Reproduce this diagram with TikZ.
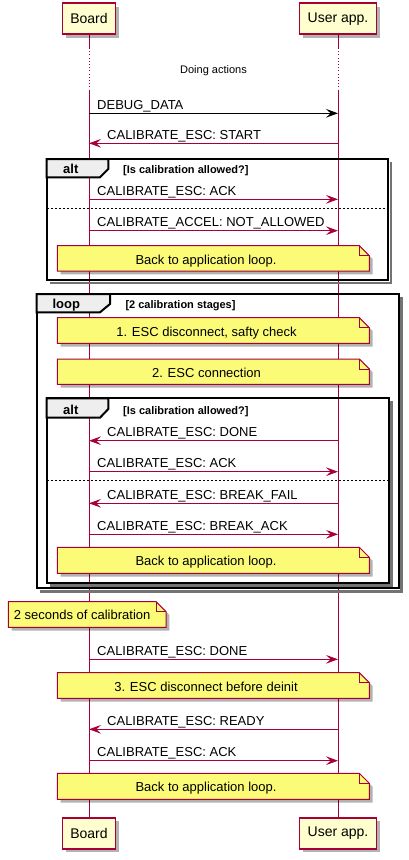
\documentclass[tikz,border=0pt]{standalone}
\usepackage{fontspec}
\setmainfont{Liberation Sans}
\usetikzlibrary{arrows.meta,shadows,backgrounds}

\definecolor{umlred}{RGB}{168,0,54}
\definecolor{partfill}{RGB}{254,254,206}
\definecolor{notefill}{RGB}{251,251,119}
\definecolor{tabfill}{RGB}{238,238,238}

\tikzset{every picture/.style={line width=0.75pt}}
\tikzset{
  umlshadow/.style={drop shadow={shadow xshift=2.5pt,shadow yshift=-2.5pt,fill=black,opacity=0.3}},
  participant/.style={draw=umlred,fill=partfill,line width=1.1pt,umlshadow,minimum height=23.25pt,inner xsep=6pt,font=\fontsize{10.5}{12}\selectfont},
  lifeline/.style={draw=umlred},
  msg/.style={draw=umlred,-{Stealth[length=9pt,width=6.5pt,inset=3.5pt]}},
  msglabel/.style={anchor=base west,inner sep=0pt,font=\fontsize{9.75}{11}\selectfont},
  notebox/.style={draw=umlred,fill=notefill,umlshadow},
  notetext/.style={anchor=base,inner sep=0pt,font=\fontsize{9.75}{11}\selectfont},
  frame/.style={draw=black,line width=1.5pt},
  frameshadow/.style={draw=black!55,line width=2.2pt},
  tab/.style={draw=black,fill=tabfill,line width=1.5pt},
  tablabel/.style={anchor=base,inner sep=0pt,font=\bfseries\fontsize{9.75}{11}\selectfont},
  guard/.style={anchor=base west,inner sep=0pt,font=\bfseries\fontsize{8.25}{10}\selectfont},
  separator/.style={draw=black,dash pattern=on 1.5pt off 1.5pt},
}

\begin{document}
\begin{tikzpicture}[x=0.75pt,y=0.75pt,yscale=-1,xscale=1]
\useasboundingbox (0,0) rectangle (409,860);

% Participants
\node[participant] (board) at (89,18.7) {Board};
\node[participant] (user) at (338,18.7) {User app.};
\node[participant] (boardend) at (89,833.3) {Board};
\node[participant] (userend) at (338,833.3) {User app.};

% Lifelines
\begin{scope}[on background layer]
\draw[lifeline] (board.south) -- (board |- 0,48);
\draw[lifeline,dotted] (board |- 0,48) -- (board |- 0,90);
\draw[lifeline] (board |- 0,90) -- (boardend.north);
\draw[lifeline] (user.south) -- (user |- 0,48);
\draw[lifeline,dotted] (user |- 0,48) -- (user |- 0,90);
\draw[lifeline] (user |- 0,90) -- (userend.north);
\end{scope}

% Delay
\node[font=\fontsize{8.25}{10}\selectfont] (delay) at (213.5,71) {Doing actions};

% Messages
\draw[msg,draw=black] (board |- 0,113.3) -- (user |- 0,113.3);
\node[msglabel] (m1) at (96.7,109) {DEBUG\_DATA};
\draw[msg] (user |- 0,143.3) -- (board |- 0,143.3);
\node[msglabel] (m2) at (106.7,139) {CALIBRATE\_ESC: START};

% Alt frame [id:alt1]
\draw[frameshadow] (391,162) -- (391,283) -- (49.5,283);
\draw[frame] (46.7,159) rectangle (388.3,280);
\draw[tab] (46.7,159) -- (108.3,159) -- (108.3,169) -- (100,177.3) -- (46.7,177.3) -- cycle;
\node[tablabel] (alt1) at (70.8,173.3) {alt};
\node[guard] (g1) at (122.7,173.3) {[Is calibration allowed?]};

\draw[msg] (board |- 0,199.3) -- (user |- 0,199.3);
\node[msglabel] (m3) at (96.7,195) {CALIBRATE\_ESC: ACK};
\draw[separator] (46.7,208.3) -- (388.3,208.3);
\draw[msg] (board |- 0,230.7) -- (user |- 0,230.7);
\node[msglabel] (m4) at (96.7,226.4) {CALIBRATE\_ACCEL: NOT\_ALLOWED};

% Note
\draw[notebox] (57.3,245.7) -- (359.3,245.7) -- (369.3,255.7) -- (369.3,271) -- (57.3,271) -- cycle;
\draw[umlred] (359.3,245.7) -- (359.3,255.7) -- (369.3,255.7);
\node[notetext] (n1) at (206,264) {Back to application loop.};

% Loop frame [id:loop]
\draw[frameshadow] (401.8,297) -- (401.8,591.1) -- (39.5,591.1);
\draw[frame] (36.7,294) rectangle (399,588.3);
\draw[tab] (36.7,294) -- (110,294) -- (110,304) -- (100,312.3) -- (36.7,312.3) -- cycle;
\node[tablabel] (loop1) at (66.3,308.3) {loop};
\node[guard] (g2) at (125,308.3) {[2 calibration stages]};

% Note
\draw[notebox] (57.3,317.7) -- (359.3,317.7) -- (369.3,327.7) -- (369.3,343.3) -- (57.3,343.3) -- cycle;
\draw[umlred] (359.3,317.7) -- (359.3,327.7) -- (369.3,327.7);
\node[notetext] (n2) at (206.5,336) {1. ESC disconnect, safty check};
% Note
\draw[notebox] (57.3,359) -- (359.3,359) -- (369.3,369) -- (369.3,384.3) -- (57.3,384.3) -- cycle;
\draw[umlred] (359.3,359) -- (359.3,369) -- (369.3,369);
\node[notetext] (n3) at (206.5,377.3) {2. ESC connection};

% Alt frame [id:alt2]
\draw[frameshadow] (391.8,401.1) -- (391.8,585.5) -- (49.5,585.5);
\draw[frame] (46.7,398.3) rectangle (389,582.7);
\draw[tab] (46.7,398.3) -- (108.3,398.3) -- (108.3,409) -- (100,417.7) -- (46.7,417.7) -- cycle;
\node[tablabel] (alt2) at (70.8,414) {alt};
\node[guard] (g3) at (122.7,414) {[Is calibration allowed?]};

\draw[msg] (user |- 0,440.7) -- (board |- 0,440.7);
\node[msglabel] (m5) at (106.7,436.4) {CALIBRATE\_ESC: DONE};
\draw[msg] (board |- 0,471.7) -- (user |- 0,471.7);
\node[msglabel] (m6) at (96.7,467.4) {CALIBRATE\_ESC: ACK};
\draw[separator] (46.7,480.3) -- (389,480.3);
\draw[msg] (user |- 0,503.3) -- (board |- 0,503.3);
\node[msglabel] (m7) at (106.7,499) {CALIBRATE\_ESC: BREAK\_FAIL};
\draw[msg] (board |- 0,534.3) -- (user |- 0,534.3);
\node[msglabel] (m8) at (96.7,530) {CALIBRATE\_ESC: BREAK\_ACK};

% Note
\draw[notebox] (57.3,547.3) -- (359.3,547.3) -- (369.3,557.3) -- (369.3,573.3) -- (57.3,573.3) -- cycle;
\draw[umlred] (359.3,547.3) -- (359.3,557.3) -- (369.3,557.3);
\node[notetext] (n4) at (206,565.6) {Back to application loop.};

% Note
\draw[notebox] (8.3,601.7) -- (156,601.7) -- (166,611.7) -- (166,627.3) -- (8.3,627.3) -- cycle;
\draw[umlred] (156,601.7) -- (156,611.7) -- (166,611.7);
\node[msglabel] (n5) at (13.3,619.3) {2 seconds of calibration};

\draw[msg] (board |- 0,659.3) -- (user |- 0,659.3);
\node[msglabel] (m9) at (96.7,655) {CALIBRATE\_ESC: DONE};

% Note
\draw[notebox] (57.3,672.7) -- (359.3,672.7) -- (369.3,682.7) -- (369.3,698.3) -- (57.3,698.3) -- cycle;
\draw[umlred] (359.3,672.7) -- (359.3,682.7) -- (369.3,682.7);
\node[notetext] (n6) at (206,691) {3. ESC disconnect before deinit};

\draw[msg] (user |- 0,729.3) -- (board |- 0,729.3);
\node[msglabel] (m10) at (106.7,725) {CALIBRATE\_ESC: READY};
\draw[msg] (board |- 0,760.7) -- (user |- 0,760.7);
\node[msglabel] (m11) at (96.7,756.4) {CALIBRATE\_ESC: ACK};

% Note
\draw[notebox] (57.3,773.3) -- (359.3,773.3) -- (369.3,783.3) -- (369.3,799.3) -- (57.3,799.3) -- cycle;
\draw[umlred] (359.3,773.3) -- (359.3,783.3) -- (369.3,783.3);
\node[notetext] (n7) at (206,791.6) {Back to application loop.};

\end{tikzpicture}
\end{document}
